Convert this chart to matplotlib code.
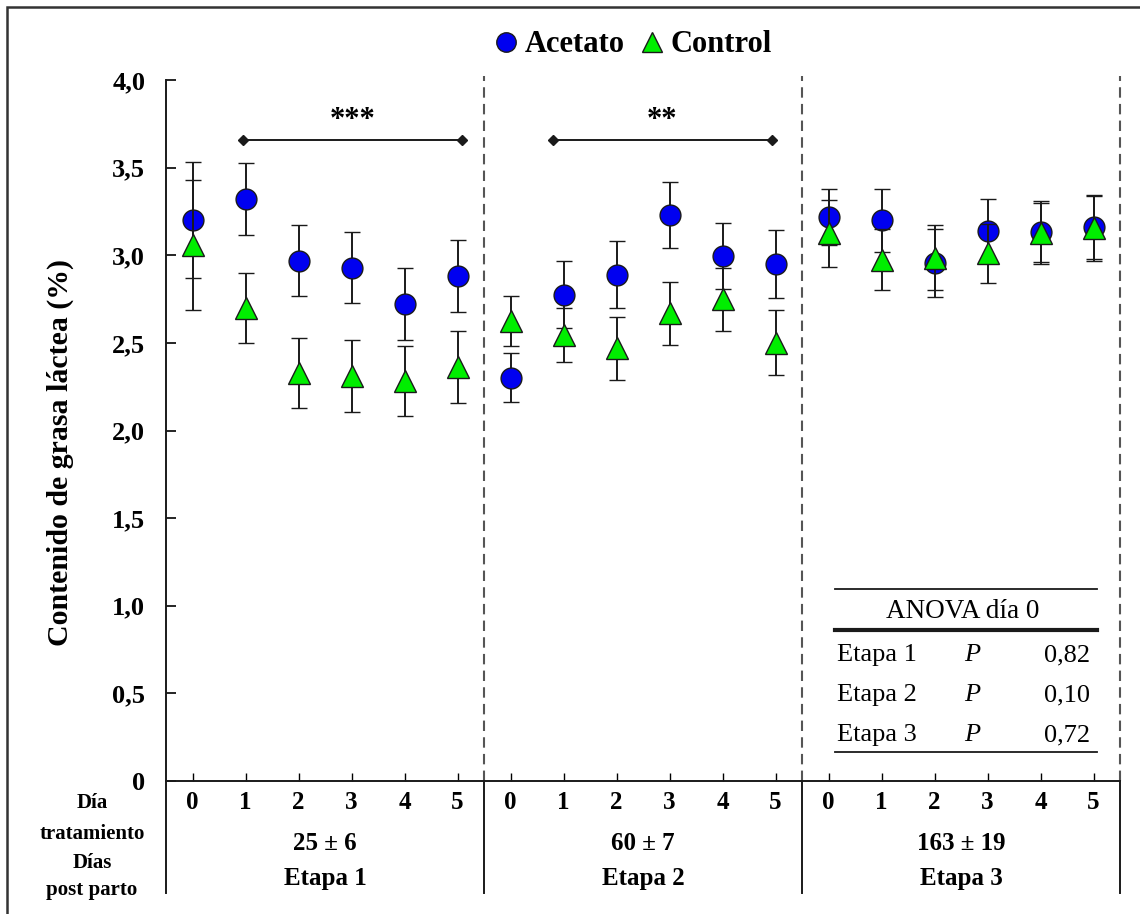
import numpy as np
import matplotlib
matplotlib.use("Agg")
import matplotlib.pyplot as plt
from matplotlib.patches import Rectangle
from matplotlib.lines import Line2D
import matplotlib.transforms as mtransforms

plt.rcParams['font.family'] = ['Liberation Serif', 'DejaVu Serif']

# ---------------- data ----------------
day_labels = ['0', '1', '2', '3', '4', '5']
stage_names = ['Etapa 1', 'Etapa 2', 'Etapa 3']
stage_dpp = ['25 ± 6', '60 ± 7', '163 ± 19']

acetato_e1 = [3.20, 3.32, 2.97, 2.93, 2.72, 2.88]
acetato_e1_err = [0.33, 0.205, 0.205, 0.205, 0.205, 0.205]
control_e1 = [3.06, 2.70, 2.33, 2.31, 2.28, 2.36]
control_e1_err = [0.37, 0.20, 0.20, 0.205, 0.20, 0.205]

acetato_e2 = [2.30, 2.775, 2.89, 3.23, 2.995, 2.95]
acetato_e2_err = [0.14, 0.19, 0.19, 0.19, 0.19, 0.195]
control_e2 = [2.625, 2.545, 2.47, 2.67, 2.75, 2.50]
control_e2_err = [0.145, 0.155, 0.18, 0.18, 0.18, 0.185]

acetato_e3 = [3.22, 3.20, 2.955, 3.14, 3.135, 3.16]
acetato_e3_err = [0.16, 0.18, 0.195, 0.18, 0.175, 0.18]
control_e3 = [3.125, 2.975, 2.985, 3.01, 3.125, 3.155]
control_e3_err = [0.19, 0.175, 0.185, 0.17, 0.175, 0.19]

sig_labels = ['***', '**']
sig_spans = [(0.95, 5.08), (6.8, 10.93)]
sig_level = 3.66

anova_rows = ['Etapa 1', 'Etapa 2', 'Etapa 3']
anova_p = ['0,82', '0,10', '0,72']

yticks = [0, 0.5, 1.0, 1.5, 2.0, 2.5, 3.0, 3.5, 4.0]
ytick_labels = ['0', '0,5', '1,0', '1,5', '2,0', '2,5', '3,0', '3,5', '4,0']

# ---------------- figure ----------------
W, H = 1140, 914
fig = plt.figure(figsize=(W / 100, H / 100), dpi=100)
ax_l, ax_r, ax_b, ax_t = 166, 1120, 781, 80
ax = fig.add_axes([ax_l / W, 1 - ax_b / H, (ax_r - ax_l) / W, (ax_b - ax_t) / H])
ax_h = ax_b - ax_t

def py2ax(py):
    return (ax_b - py) / ax_h

def px2ax(px):
    return (px - ax_l) / (ax_r - ax_l)

acetato = acetato_e1 + acetato_e2 + acetato_e3
acetato_err = acetato_e1_err + acetato_e2_err + acetato_e3_err
control = control_e1 + control_e2 + control_e3
control_err = control_e1_err + control_e2_err + control_e3_err
x = np.arange(len(acetato))

c_blue = '#0000f0'
c_green = '#00ee00'
edge = '#1a1a1a'

eb_kw = dict(linestyle='none', ecolor=edge, elinewidth=1.4, capsize=5.5,
             capthick=1.4, markeredgecolor=edge, markeredgewidth=1.0)
ax.errorbar(x, acetato, yerr=acetato_err, fmt='o', color=c_blue,
            markersize=15, zorder=3, **eb_kw)
ax.errorbar(x, control, yerr=control_err, fmt='^', color=c_green,
            markersize=16, zorder=4, **eb_kw)

ax.set_xlim(-0.5, 17.5)
ax.set_ylim(0, 4.0)

for s in ['top', 'right']:
    ax.spines[s].set_visible(False)
for s in ['left', 'bottom']:
    ax.spines[s].set_linewidth(1.4)
    ax.spines[s].set_color(edge)

ax.set_yticks(yticks)
ax.set_yticklabels(ytick_labels, fontsize=19, fontweight='bold')
ax.tick_params(axis='y', direction='in', length=7, width=1.2, pad=15)

ax.set_xticks(x)
ax.set_xticklabels(day_labels * 3, fontsize=18, fontweight='bold')
ax.tick_params(axis='x', direction='in', length=6, width=1.0, pad=7)

ax.set_ylabel('Contenido de grasa láctea (%)', fontsize=21.5, fontweight='bold')
ax.yaxis.set_label_coords(px2ax(74), py2ax(452))

# vertical dashed dividers and lower solid dividers
trans = mtransforms.blended_transform_factory(ax.transData, ax.transAxes)
for xv in [5.5, 11.5, 17.5]:
    ax.plot([xv, xv], [0, py2ax(76)], transform=trans, color='#555555',
            linestyle=(0, (5, 3)), linewidth=1.5, clip_on=False, zorder=1)
for xv in [-0.5, 5.5, 11.5, 17.5]:
    ax.plot([xv, xv], [0, py2ax(893)], transform=trans, color=edge,
            linewidth=1.4, clip_on=False)

# stage annotation below axis
for i in range(3):
    xc = 6 * i + 2.5
    ax.text(xc, py2ax(843), stage_dpp[i], transform=trans, ha='center', va='center',
            fontsize=18, fontweight='bold')
    ax.text(xc, py2ax(879), stage_names[i], transform=trans, ha='center', va='center',
            fontsize=18, fontweight='bold')

lx = px2ax(92)
for txt, py in [('Día', 803), ('tratamiento', 834), ('Días', 863), ('post parto', 890)]:
    ax.text(lx, py2ax(py), txt, transform=ax.transAxes, ha='center', va='center',
            fontsize=15, fontweight='bold')

# significance brackets
for (x0, x1), lab in zip(sig_spans, sig_labels):
    ax.plot([x0, x1], [sig_level, sig_level], color=edge, linewidth=1.4,
            marker='D', markersize=5, zorder=2)
    ax.text((x0 + x1) / 2, sig_level + 0.11, lab, ha='center', va='center',
            fontsize=22, fontweight='bold')

# ANOVA table
tx0, tx1 = px2ax(835), px2ax(1097)
ax.plot([tx0, tx1], [py2ax(589)] * 2, transform=ax.transAxes, color=edge, lw=1.3)
ax.plot([tx0, tx1], [py2ax(630)] * 2, transform=ax.transAxes, color=edge, lw=3.0)
ax.plot([tx0, tx1], [py2ax(752)] * 2, transform=ax.transAxes, color=edge, lw=1.3)
ax.text(px2ax(963), py2ax(611), 'ANOVA día 0', transform=ax.transAxes,
        ha='center', va='center', fontsize=19.5)
for i, (r, p) in enumerate(zip(anova_rows, anova_p)):
    yy = py2ax(655 + 40 * i)
    ax.text(px2ax(837), yy, r, transform=ax.transAxes, ha='left', va='center', fontsize=19)
    ax.text(px2ax(972), yy, 'P', transform=ax.transAxes, ha='center', va='center',
            fontsize=19, fontstyle='italic')
    ax.text(px2ax(1090), yy, p, transform=ax.transAxes, ha='right', va='center', fontsize=19)

# legend (markers only)
handles = [
    Line2D([], [], linestyle='none', marker='o', markersize=14, color=c_blue,
           markeredgecolor=edge, markeredgewidth=1.0, label='Acetato'),
    Line2D([], [], linestyle='none', marker='^', markersize=15, color=c_green,
           markeredgecolor=edge, markeredgewidth=1.0, label='Control'),
]
fig.legend(handles=handles, loc='center', bbox_to_anchor=(631 / W, 1 - 45 / H), ncol=2,
           frameon=False, handletextpad=0.1, columnspacing=0.4,
           handlelength=1.0, prop={'size': 22, 'weight': 'bold'})

# figure border
fig.add_artist(Rectangle((7 / W, -0.1), 1.2, 1 - 7 / H + 0.1, transform=fig.transFigure,
                         fill=False, edgecolor='#333333', linewidth=1.8))

fig.savefig('out.png', dpi=100)
